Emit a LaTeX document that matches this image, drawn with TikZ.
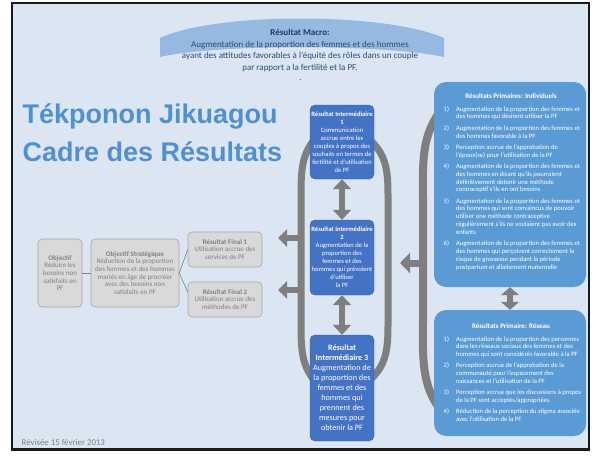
\documentclass[tikz,border=0pt]{standalone}
\usepackage{fontspec}
\setmainfont{Carlito}
\newfontfamily\titlefont{Liberation Sans}
\usetikzlibrary{arrows.meta,calc}
\definecolor{bgblue}{HTML}{DCE6F2}
\definecolor{bandblue}{HTML}{95B9E1}
\definecolor{macrotitle}{HTML}{1F3864}
\definecolor{macrotext}{HTML}{2A4A7A}
\definecolor{titleblue}{HTML}{4E91D2}
\definecolor{riblue}{HTML}{4472C4}
\definecolor{panelblue}{HTML}{5B9BD5}
\definecolor{arrowgray}{HTML}{7F7F7F}
\definecolor{boxgray}{HTML}{D9D9D9}
\definecolor{boxline}{HTML}{A6A6A6}
\definecolor{textgray}{HTML}{808080}
\definecolor{framecol}{HTML}{1A1A1A}
\newcommand\setfs[2]{\fontsize{#1}{#2}\selectfont}
\begin{document}
\begin{tikzpicture}[x=1pt,y=-1pt,
  graybox/.style={draw=boxline, line width=0.6pt, fill=boxgray, rounded corners=4pt, text=textgray, align=center, inner sep=0pt, font=\setfs{7}{7.7}},
  ribox/.style={fill=riblue, draw=riblue!85!black, line width=0.4pt, rounded corners=5pt, text=white, align=center, inner sep=0pt, minimum width=64pt},
  panel/.style={fill=panelblue, rounded corners=12pt, inner sep=0pt, minimum width=152pt},
  gthick/.style={draw=arrowgray, line width=7pt},
  blockarrow/.style={draw=arrowgray, line width=6pt, -{Triangle[width=17pt,length=9pt]}},
  dblarrow/.style={draw=arrowgray, line width=6pt, {Triangle[width=18pt,length=10pt]}-{Triangle[width=18pt,length=10pt]}},
  smalldbl/.style={draw=arrowgray, line width=6pt, {Triangle[width=18pt,length=8pt]}-{Triangle[width=18pt,length=8pt]}},
  thinline/.style={draw=arrowgray, line width=0.6pt}
]
\fill[white] (0,0) rectangle (596,455);
\useasboundingbox (0,0) rectangle (596,455);
\fill[bgblue] (12,3) rectangle (589,449.5);

% macro band
\fill[bandblue] (160,38) .. controls (215,12) and (385,12) .. (444,38) -- (444,57)
  .. controls (385,44) and (215,44) .. (160,57) -- cycle;
\node[align=center, text=macrotext, inner sep=0pt, font=\setfs{9}{11.7}] (macro) at (300,50.5)
  {{\color{macrotitle}\bfseries Résultat Macro:}\\
   Augmentation de la proportion des femmes et des hommes\\
   ayant des attitudes favorables à l’équité des rôles dans un couple\\
   par rapport a la fertilité et la PF.};
\node[text=macrotext, inner sep=0pt, font=\setfs{9}{11}] (dot) at (300.5,80.5) {.};

% title
\node[anchor=base west, inner sep=0pt, text=titleblue, font=\titlefont\bfseries\setfs{27}{32}] (title1) at (22.5,123)
  {Tékponon Jikuagou};
\node[anchor=base west, inner sep=0pt, text=titleblue, font=\titlefont\bfseries\setfs{27}{32}] (title2) at (22.5,161)
  {Cadre des Résultats};

% revised
\node[anchor=base west, inner sep=0pt, text=textgray, font=\setfs{8.8}{10}] (rev) at (21.5,445.5)
  {Révisée 15 février 2013};

% outer bracket and arrow
\draw[gthick, line width=8pt] (450,100) .. controls (420,130) and (423,160) .. (423,200)
  -- (423,320) .. controls (423,360) and (420,392) .. (450,420);
\coordinate (obr) at (423,263);
\coordinate (obt) at (400,263);
\draw[draw=arrowgray, line width=7pt, -{Triangle[width=20pt,length=10pt]}] (obr) -- (obt);

% inner ellipse arcs
\draw[gthick] (314,140) .. controls (302,155) and (301,170) .. (301,195)
  -- (301,325) .. controls (301,350) and (302,365) .. (314,380);
\draw[gthick] (370,140) .. controls (386,155) and (388,170) .. (388,195)
  -- (388,325) .. controls (388,350) and (386,365) .. (370,380);
\coordinate (la1) at (301,238);
\coordinate (lt1) at (278,238);
\coordinate (la2) at (301,290);
\coordinate (lt2) at (278,290);
\draw[blockarrow] (la1) -- (lt1);
\draw[blockarrow] (la2) -- (lt2);

% gray boxes
\node[graybox, minimum width=44pt, minimum height=68pt] (obj) at (60,273)
  {\textbf{Objectif}\\Réduire les\\besoins non\\satisfaits en\\PF};
\node[graybox, minimum width=88pt, minimum height=68pt] (os) at (135,273)
  {\textbf{Objectif Stratégique}\\Réduction de la proportion\\des femmes et des hommes\\mariés en âge de procréer\\avec des besoins non\\satisfaits en PF};
\node[graybox, minimum width=74pt, minimum height=35pt] (rf1) at (225,249.5)
  {\textbf{Résultat Final 1}\\Utilisation accrue des\\services de PF};
\node[graybox, minimum width=74pt, minimum height=35pt] (rf2) at (225,299.5)
  {\textbf{Résultat Final 2}\\Utilisation accrue des\\méthodes de PF};
\draw[thinline] (obj.east) -- (os.west);
\draw[thinline] (os.east) -- (rf1.west);
\draw[thinline] (os.east) -- ([yshift=7.5pt]rf2.west);

% intermediate boxes
\node[ribox, minimum height=74pt, font=\setfs{6.6}{8}] (ri1) at (342,142)
  {\textbf{Résultat Intermédiaire}\\\textbf{1}\\Communication\\accrue entre les\\couples à propos des\\souhaits en termes de\\fertilité et d’utilisation\\de PF};
\node[ribox, minimum height=75pt, font=\setfs{6.6}{8}] (ri2) at (342,257.5)
  {\textbf{Résultat Intermédiaire}\\\textbf{2}\\Augmentation de la\\proportion des\\femmes et des\\hommes qui prévoient\\d’utiliser\\la PF};
\node[ribox, minimum height=106pt, font=\setfs{8.2}{10}] (ri3) at (342,388)
  {\textbf{Résultat}\\\textbf{Intermédiaire 3}\\Augmentation de\\la proportion des\\femmes et des\\hommes qui\\prennent des\\mesures pour\\obtenir la PF};
\draw[dblarrow] (ri1.south) -- (ri2.north);
\draw[dblarrow] (ri2.south) -- (ri3.north);

% right panels
\node[panel, minimum height=205pt] (p1) at (510,184.5) {};
\node[panel, minimum height=126pt] (p2) at (510,373) {};
\draw[smalldbl] (p1.south) -- (p2.north);

\node[text=white, inner sep=0pt, font=\setfs{7}{8}] (p1t) at (511,96)
  {\textbf{Résultats Primaires: Individuels}};
\node[anchor=north west, text=white, inner sep=0pt, font=\setfs{6.6}{7.8}] (p1l) at (443.5,105.5)
  {\begin{tabular}{@{}l@{\hspace{7pt}}l@{}}
  1) & Augmentation de la proportion des femmes et\\
     & des hommes qui désirent utiliser la PF\\[3.5pt]
  2) & Augmentation de la proportion des femmes et\\
     & des hommes favorable à la PF\\[3.5pt]
  3) & Perception accrue de l’approbation de\\
     & l’époux(se) pour l’utilisation de la PF\\[3.5pt]
  4) & Augmentation de la proportion des femmes et\\
     & des hommes en disant qu’ils pourraient\\
     & définitivement obtenir une méthode\\
     & contraceptif s’ils en ont besoins\\[3.5pt]
  5) & Augmentation de la proportion des femmes et\\
     & des hommes qui sont convaincus de pouvoir\\
     & utiliser une méthode contraceptive\\
     & régulièrement s’ils ne voulaient pas avoir des\\
     & enfants\\[3.5pt]
  6) & Augmentation de la proportion des femmes et\\
     & des hommes qui perçoivent correctement la\\
     & risque de grossesse pendant la période\\
     & postpartum et allaitement maternelle
  \end{tabular}};

\node[text=white, inner sep=0pt, font=\setfs{7}{8}] (p2t) at (511,326)
  {\textbf{Résultats Primaire: Réseau}};
\node[anchor=north west, text=white, inner sep=0pt, font=\setfs{6.6}{7.8}] (p2l) at (443.5,335.5)
  {\begin{tabular}{@{}l@{\hspace{7pt}}l@{}}
  1) & Augmentation de la proportion des personnes\\
     & dans les réseaux sociaux des femmes et des\\
     & hommes qui sont considérés favorable à la PF\\[3.3pt]
  2) & Perception accrue de l’approbation de la\\
     & communauté pour l’espacement des\\
     & naissances et l’utilisation de la PF\\[3.3pt]
  3) & Perception accrue que les discussions à propos\\
     & de la PF sont acceptés/appropriées\\[3.3pt]
  4) & Réduction de la perception du stigma associée\\
     & avec l’utilisation de la PF
  \end{tabular}};

% frame
\draw[line width=2.5pt, framecol] (12,3) rectangle (589,449.5);
\end{tikzpicture}
\end{document}
